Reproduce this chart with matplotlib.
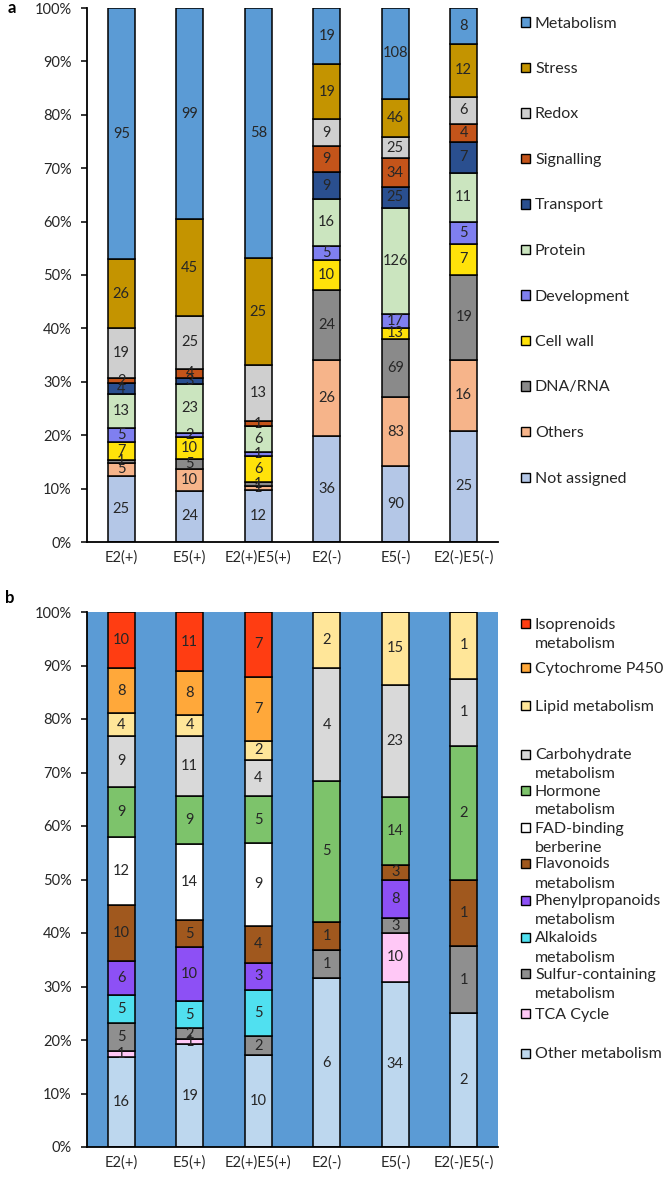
import matplotlib.pyplot as plt
import matplotlib.patches as mpatches
import numpy as np
from matplotlib.ticker import PercentFormatter

plt.rcParams['font.family'] = ['Lato', 'DejaVu Sans']

groups = ['E2(+)', 'E5(+)', 'E2(+)E5(+)', 'E2(-)', 'E5(-)', 'E2(-)E5(-)']

# - panel a, stacked bottom to top -
cat_a = ['Not assigned', 'Others', 'DNA/RNA', 'Cell wall', 'Development', 'Protein',
         'Transport', 'Signalling', 'Redox', 'Stress', 'Metabolism']
not_assigned = [25, 24, 12, 36, 90, 25]
others = [5, 10, 1, 26, 83, 16]
dna_rna = [1, 5, 1, 24, 69, 19]
cell_wall = [7, 10, 6, 10, 13, 7]
development = [5, 2, 1, 5, 17, 5]
protein = [13, 23, 6, 16, 126, 11]
transport = [4, 3, 0, 9, 25, 7]
signalling = [2, 4, 1, 9, 34, 4]
redox = [19, 25, 13, 9, 25, 6]
stress = [26, 45, 25, 19, 46, 12]
metabolism = [95, 99, 58, 19, 108, 8]
colors_a = ['#b4c7e7', '#f6b48a', '#8a8a8a', '#ffe20a', '#7f7ff0', '#cbe5bf',
            '#2a4f8f', '#c4541a', '#cfcfcf', '#c49400', '#5b9bd5']

# - panel b, stacked bottom to top -
cat_b = ['Other metabolism', 'TCA Cycle', 'Sulfur-containing\nmetabolism', 'Alkaloids\nmetabolism',
         'Phenylpropanoids\nmetabolism', 'Flavonoids\nmetabolism', 'FAD-binding\nberberine',
         'Hormone\nmetabolism', 'Carbohydrate\nmetabolism', 'Lipid metabolism',
         'Cytochrome P450', 'Isoprenoids\nmetabolism']
other_met = [16, 19, 10, 6, 34, 2]
tca = [1, 1, 0, 0, 10, 0]
sulfur = [5, 2, 2, 1, 3, 1]
alkaloids = [5, 5, 5, 0, 0, 0]
phenylprop = [6, 10, 3, 0, 8, 0]
flavonoids = [10, 5, 4, 1, 3, 1]
fad_berberine = [12, 14, 9, 0, 0, 0]
hormone = [9, 9, 5, 5, 14, 2]
carbohydrate = [9, 11, 4, 4, 23, 1]
lipid = [4, 4, 2, 2, 15, 1]
p450 = [8, 8, 7, 0, 0, 0]
isoprenoids = [10, 11, 7, 0, 0, 0]
colors_b = ['#bdd7ee', '#ffc8f6', '#8f8f8f', '#50e0f0', '#8d50f5', '#a0581e',
            '#ffffff', '#7dc36b', '#d9d9d9', '#ffe699', '#ffa83a', '#ff3d12']

series_a = [not_assigned, others, dna_rna, cell_wall, development, protein,
            transport, signalling, redox, stress, metabolism]
series_b = [other_met, tca, sulfur, alkaloids, phenylprop, flavonoids,
            fad_berberine, hormone, carbohydrate, lipid, p450, isoprenoids]

FS = 10.5


def stacked(ax, series, colors):
    data = np.array(series, dtype=float)
    pct = data / data.sum(axis=0) * 100
    x = np.arange(len(groups))
    bottom = np.zeros(len(groups))
    for vals, p, c in zip(data, pct, colors):
        bars = ax.bar(x, p, 0.4, bottom=bottom, color=c, edgecolor='black', linewidth=1.1, zorder=2)
        labels = [str(int(v)) if v > 0 else '' for v in vals]
        ax.bar_label(bars, labels=labels, label_type='center', fontsize=FS, color='#262626')
        bottom += p
    ax.set_xlim(-0.5, len(groups) - 0.5)
    ax.set_ylim(0, 100)
    ax.set_yticks(np.arange(0, 101, 10))
    ax.yaxis.set_major_formatter(PercentFormatter(decimals=0))
    ax.set_xticks(x)
    ax.set_xticklabels(groups)
    ax.tick_params(axis='x', length=0, pad=6, labelsize=FS, colors='#262626')
    ax.tick_params(axis='y', length=4, width=1.1, pad=7, labelsize=FS, colors='#262626')
    ax.tick_params(axis='y', color='black')
    for s in ['top', 'right']:
        ax.spines[s].set_visible(False)
    for s in ['left', 'bottom']:
        ax.spines[s].set_linewidth(1.3)


def side_legend(fig, names, colors, ys, x=521, size=9, step=19):
    W, H = fig.get_size_inches() * fig.dpi
    for name, c, y in zip(names, colors, ys):
        fig.patches.append(mpatches.Rectangle((x / W, 1 - (y + size / 2) / H), size / W, size / H,
                                              facecolor=c, edgecolor='black', linewidth=1.0,
                                              transform=fig.transFigure, figure=fig))
        for k, line in enumerate(name.split('\n')):
            fig.text((x + size + 5) / W, 1 - (y + k * step) / H, line, fontsize=11.5,
                     color='#262626', va='center_baseline', ha='left')


fig = plt.figure(figsize=(6.66, 11.77), dpi=100)
W, H = 666, 1177

ax1 = fig.add_axes([87 / W, 1 - 542 / H, 411 / W, 534 / H])
stacked(ax1, series_a, colors_a)

ax2 = fig.add_axes([87 / W, 1 - 1147 / H, 411 / W, 535 / H])
ax2.set_facecolor('#5b9bd5')
stacked(ax2, series_b, colors_b)

# legend rows (centre of first line, pixels from top)
ys_a = [22 + 45.5 * i for i in range(11)]
side_legend(fig, cat_a[::-1], colors_a[::-1], ys_a)
ys_b = [623, 667, 705, 754, 790, 827, 863, 900, 937, 973, 1013, 1053]
side_legend(fig, cat_b[::-1], colors_b[::-1], ys_b)

fig.text(8 / W, 1 - 8 / H, 'a', fontsize=12, fontweight='bold', va='center', ha='left')
fig.text(5 / W, 1 - 598 / H, 'b', fontsize=12, fontweight='bold', va='center', ha='left')

fig.savefig('out.png', dpi=100)
